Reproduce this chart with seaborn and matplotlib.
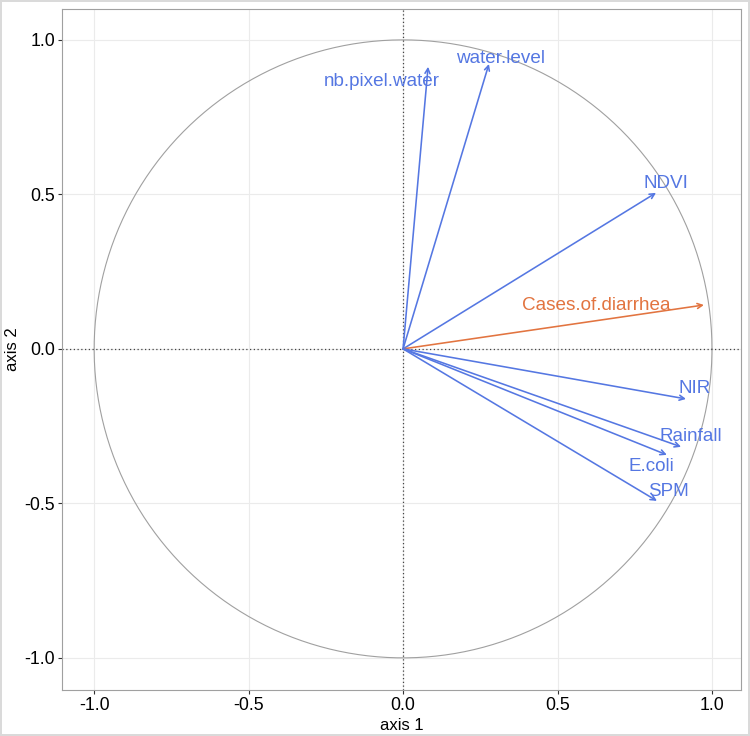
import numpy as np
import pandas as pd
import matplotlib
matplotlib.use("Agg")
import matplotlib.pyplot as plt
import seaborn as sns

# variable names and loadings (axis 1, axis 2)
variables = ["nb.pixel.water", "water.level", "NDVI", "Cases.of.diarrhea",
             "NIR", "Rainfall", "E.coli", "SPM"]
axis1 = [0.081, 0.278, 0.819, 0.974, 0.916, 0.900, 0.854, 0.822]
axis2 = [0.913, 0.922, 0.505, 0.142, -0.162, -0.317, -0.343, -0.492]
# label positions (repelled)
label_x = [-0.070, 0.314, 0.850, 0.625, 0.945, 0.932, 0.803, 0.858]
label_y = [0.864, 0.940, 0.534, 0.139, -0.129, -0.282, -0.382, -0.460]
groups = ["expl", "expl", "expl", "resp", "expl", "expl", "expl", "expl"]
ticks = [-1.0, -0.5, 0.0, 0.5, 1.0]

colors = {"expl": "#5577E2", "resp": "#E27440"}

sns.set_theme(style="whitegrid")
plt.rcParams["font.family"] = ["Liberation Sans", "DejaVu Sans"]

fig = plt.figure(figsize=(7.5, 7.36), dpi=100)
fig.patch.set_edgecolor("#DADADA")
fig.patch.set_linewidth(1.5)
ax = fig.add_axes([0.0827, 0.0625, 0.9053, 0.9253])

# correlation circle
theta = np.linspace(0, 2 * np.pi, 400)
circle = pd.DataFrame({"x": np.cos(theta), "y": np.sin(theta)})
sns.lineplot(data=circle, x="x", y="y", sort=False, color="#A0A0A0",
             linewidth=0.8, ax=ax, estimator=None)

ax.axhline(0, color="#444444", linestyle=(0, (1, 2)), linewidth=0.9)
ax.axvline(0, color="#444444", linestyle=(0, (1, 2)), linewidth=0.9)

df = pd.DataFrame({"var": variables, "x": axis1, "y": axis2,
                   "lx": label_x, "ly": label_y, "g": groups})
for _, r in df.iterrows():
    c = colors[r["g"]]
    ax.annotate("", xy=(r["x"], r["y"]), xytext=(0, 0),
                arrowprops=dict(arrowstyle="->", color=c, lw=1.15,
                                mutation_scale=9, shrinkA=0, shrinkB=0))
    ax.text(r["lx"], r["ly"], r["var"], color=c, fontsize=13.6,
            ha="center", va="center")

ax.set_xlim(-1.104, 1.094)
ax.set_ylim(-1.104, 1.100)
ax.set_xticks(ticks)
ax.set_yticks(ticks)
ax.set_xticklabels([f"{t:.1f}" for t in ticks])
ax.set_yticklabels([f"{t:.1f}" for t in ticks])
ax.set_xlabel("axis 1", fontsize=12, color="black", labelpad=3)
ax.set_ylabel("axis 2", fontsize=12, color="black", labelpad=3)
ax.tick_params(axis="both", labelsize=12.8, labelcolor="black", length=3,
               width=0.8, color="#333333", bottom=True, left=True, pad=2)
ax.grid(True, color="#EBEBEB", linewidth=0.8)
for s in ax.spines.values():
    s.set_color("#A0A0A0")
    s.set_linewidth(0.8)

fig.savefig("out.png", dpi=100)
